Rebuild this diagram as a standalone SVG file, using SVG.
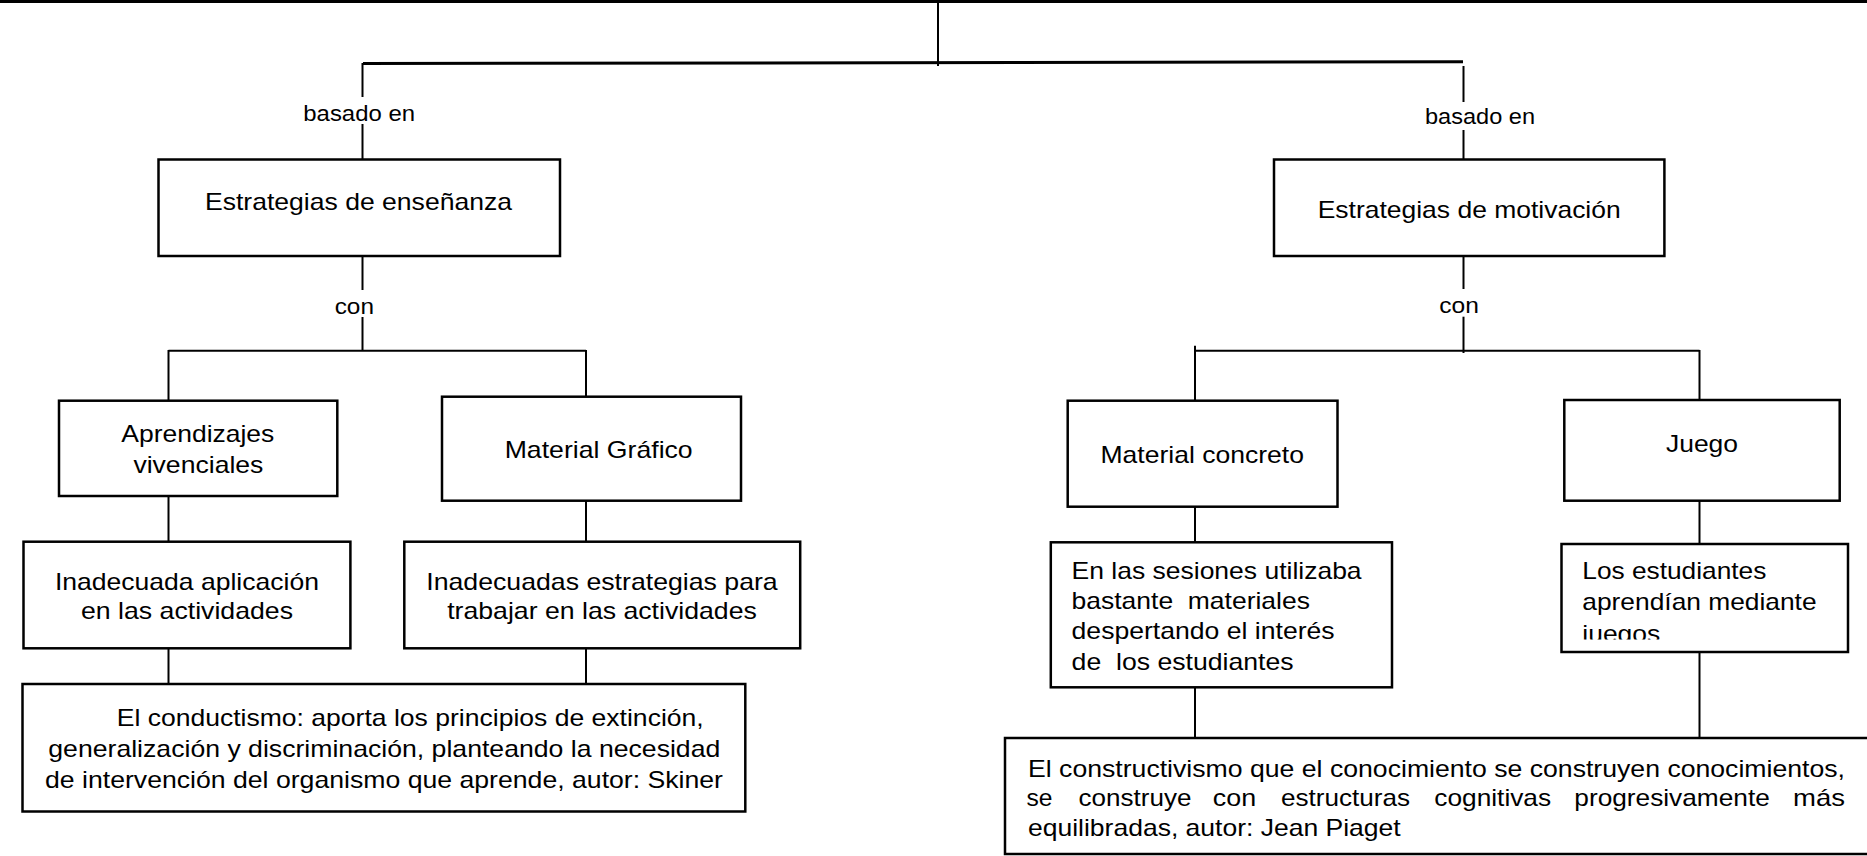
<svg xmlns="http://www.w3.org/2000/svg" width="1867" height="856" viewBox="0 0 1867 856">
<style>
  .bx { fill: #fff; stroke: #000; stroke-width: 2.5; }
  .ln { stroke: #000; stroke-width: 2; fill: none; }
  .thk { stroke: #000; stroke-width: 3; fill: none; }
  text { font-family: "Liberation Sans", Arial, sans-serif; font-size: 24px; fill: #000; white-space: pre; }
  .lbl { font-size: 22px; }
</style>
<defs>
  <clipPath id="clipJuegos"><rect x="1562" y="545" width="285" height="94.5"/></clipPath>
</defs>
<rect x="0" y="0" width="1867" height="856" fill="#fff"/>

<g id="connectors">
  <line class="thk" x1="0" y1="1.5" x2="1867" y2="1.5"/>
  <line class="ln" x1="938" y1="0" x2="938" y2="66"/>
  <line class="thk" x1="363" y1="63.5" x2="1463" y2="61.8"/>
  <line class="ln" x1="362.5" y1="63" x2="362.5" y2="97"/>
  <line class="ln" x1="362.5" y1="124" x2="362.5" y2="159"/>
  <line class="ln" x1="1463.5" y1="66" x2="1463.5" y2="102"/>
  <line class="ln" x1="1463.5" y1="130" x2="1463.5" y2="159"/>
  <line class="ln" x1="362.5" y1="256" x2="362.5" y2="290"/>
  <line class="ln" x1="362.5" y1="317" x2="362.5" y2="351"/>
  <line class="ln" x1="168.5" y1="350.7" x2="586" y2="350.7"/>
  <line class="ln" x1="168.5" y1="350" x2="168.5" y2="401"/>
  <line class="ln" x1="586" y1="350" x2="586" y2="397"/>
  <line class="ln" x1="168.5" y1="496" x2="168.5" y2="542"/>
  <line class="ln" x1="586" y1="500.7" x2="586" y2="542"/>
  <line class="ln" x1="168.5" y1="648" x2="168.5" y2="684"/>
  <line class="ln" x1="586" y1="648" x2="586" y2="684"/>
  <line class="ln" x1="1463.5" y1="256" x2="1463.5" y2="289"/>
  <line class="ln" x1="1463.5" y1="316.7" x2="1463.5" y2="353"/>
  <line class="ln" x1="1195" y1="350.7" x2="1699.5" y2="350.7"/>
  <line class="ln" x1="1195" y1="345.7" x2="1195" y2="401"/>
  <line class="ln" x1="1699.5" y1="350" x2="1699.5" y2="400"/>
  <line class="ln" x1="1195" y1="506.7" x2="1195" y2="542.3"/>
  <line class="ln" x1="1699.5" y1="500.7" x2="1699.5" y2="544"/>
  <line class="ln" x1="1699.5" y1="652" x2="1699.5" y2="738"/>
  <line class="ln" x1="1195" y1="687.3" x2="1195" y2="738"/>
</g>

<g id="lbl-basado-izq"><text class="lbl" x="303.3" y="121" textLength="111.7" lengthAdjust="spacingAndGlyphs">basado en</text></g>
<g id="lbl-basado-der"><text class="lbl" x="1425" y="124" textLength="110" lengthAdjust="spacingAndGlyphs">basado en</text></g>
<g id="lbl-con-izq"><text class="lbl" x="334.7" y="314" textLength="39.3" lengthAdjust="spacingAndGlyphs">con</text></g>
<g id="lbl-con-der"><text class="lbl" x="1439.3" y="313.3" textLength="39.6" lengthAdjust="spacingAndGlyphs">con</text></g>

<g id="n-ensenanza">
  <rect class="bx" x="158.5" y="159.5" width="401.5" height="96.5"/>
  <text x="205" y="210" textLength="307" lengthAdjust="spacingAndGlyphs">Estrategias de enseñanza</text>
</g>
<g id="n-motivacion">
  <rect class="bx" x="1274" y="159.5" width="390.4" height="96.5"/>
  <text x="1317.7" y="218.3" textLength="303" lengthAdjust="spacingAndGlyphs">Estrategias de motivación</text>
</g>
<g id="n-aprendizajes">
  <rect class="bx" x="59" y="400.7" width="278.3" height="95.3"/>
  <text x="121.3" y="441.7" textLength="153" lengthAdjust="spacingAndGlyphs">Aprendizajes</text>
  <text x="133.4" y="473.3" textLength="130" lengthAdjust="spacingAndGlyphs">vivenciales</text>
</g>
<g id="n-grafico">
  <rect class="bx" x="442" y="396.7" width="299" height="104"/>
  <text x="504.7" y="458.3" textLength="188" lengthAdjust="spacingAndGlyphs">Material Gráfico</text>
</g>
<g id="n-inadecuada">
  <rect class="bx" x="23.5" y="541.7" width="326.9" height="106.6"/>
  <text x="54.9" y="590" textLength="264" lengthAdjust="spacingAndGlyphs">Inadecuada aplicación</text>
  <text x="81" y="619.3" textLength="212" lengthAdjust="spacingAndGlyphs">en las actividades</text>
</g>
<g id="n-inadecuadas">
  <rect class="bx" x="404.3" y="541.7" width="395.9" height="106.6"/>
  <text x="426.3" y="590" textLength="351.4" lengthAdjust="spacingAndGlyphs">Inadecuadas estrategias para</text>
  <text x="447.2" y="619.3" textLength="309.6" lengthAdjust="spacingAndGlyphs">trabajar en las actividades</text>
</g>
<g id="n-conductismo">
  <rect class="bx" x="22.5" y="684" width="722.8" height="127.5"/>
  <text x="116.7" y="726" textLength="587" lengthAdjust="spacingAndGlyphs">El conductismo: aporta los principios de extinción,</text>
  <text x="48.3" y="757" textLength="672" lengthAdjust="spacingAndGlyphs">generalización y discriminación, planteando la necesidad</text>
  <text x="45" y="788" textLength="678" lengthAdjust="spacingAndGlyphs">de intervención del organismo que aprende, autor: Skiner</text>
</g>
<g id="n-concreto">
  <rect class="bx" x="1067.7" y="400.7" width="269.8" height="106"/>
  <text x="1100.5" y="463.3" textLength="203.5" lengthAdjust="spacingAndGlyphs">Material concreto</text>
</g>
<g id="n-juego">
  <rect class="bx" x="1564.3" y="400" width="275.4" height="100.7"/>
  <text x="1666" y="452.3" textLength="72" lengthAdjust="spacingAndGlyphs">Juego</text>
</g>
<g id="n-sesiones">
  <rect class="bx" x="1050.8" y="542.3" width="341.2" height="145"/>
  <text x="1071.6" y="579" textLength="290" lengthAdjust="spacingAndGlyphs">En las sesiones utilizaba</text>
  <text x="1071.6" y="609.3" textLength="238.3" lengthAdjust="spacingAndGlyphs">bastante  materiales</text>
  <text x="1071.6" y="639.3" textLength="263" lengthAdjust="spacingAndGlyphs">despertando el interés</text>
  <text x="1071.6" y="670" textLength="222" lengthAdjust="spacingAndGlyphs">de  los estudiantes</text>
</g>
<g id="n-estudiantes">
  <rect class="bx" x="1561.5" y="544" width="286.5" height="108"/>
  <text x="1582.3" y="579.3" textLength="184" lengthAdjust="spacingAndGlyphs">Los estudiantes</text>
  <text x="1582.3" y="610" textLength="234.3" lengthAdjust="spacingAndGlyphs">aprendían mediante</text>
  <g clip-path="url(#clipJuegos)">
    <text x="1582.3" y="642" textLength="78" lengthAdjust="spacingAndGlyphs">juegos</text>
  </g>
</g>
<g id="n-constructivismo">
  <rect class="bx" x="1005" y="738" width="880" height="116"/>
  <text x="1028" y="777" textLength="817" lengthAdjust="spacingAndGlyphs">El constructivismo que el conocimiento se construyen conocimientos,</text>
  <text y="806"><tspan x="1026.5" textLength="26" lengthAdjust="spacingAndGlyphs">se</tspan><tspan x="1078.6" textLength="112.8" lengthAdjust="spacingAndGlyphs">construye</tspan><tspan x="1212.8" textLength="43.3" lengthAdjust="spacingAndGlyphs">con</tspan><tspan x="1281" textLength="129" lengthAdjust="spacingAndGlyphs">estructuras</tspan><tspan x="1434.3" textLength="116.8" lengthAdjust="spacingAndGlyphs">cognitivas</tspan><tspan x="1574.3" textLength="195.5" lengthAdjust="spacingAndGlyphs">progresivamente</tspan><tspan x="1793" textLength="52" lengthAdjust="spacingAndGlyphs">más</tspan></text>
  <text x="1028" y="836" textLength="372.7" lengthAdjust="spacingAndGlyphs">equilibradas, autor: Jean Piaget</text>
</g>
</svg>
